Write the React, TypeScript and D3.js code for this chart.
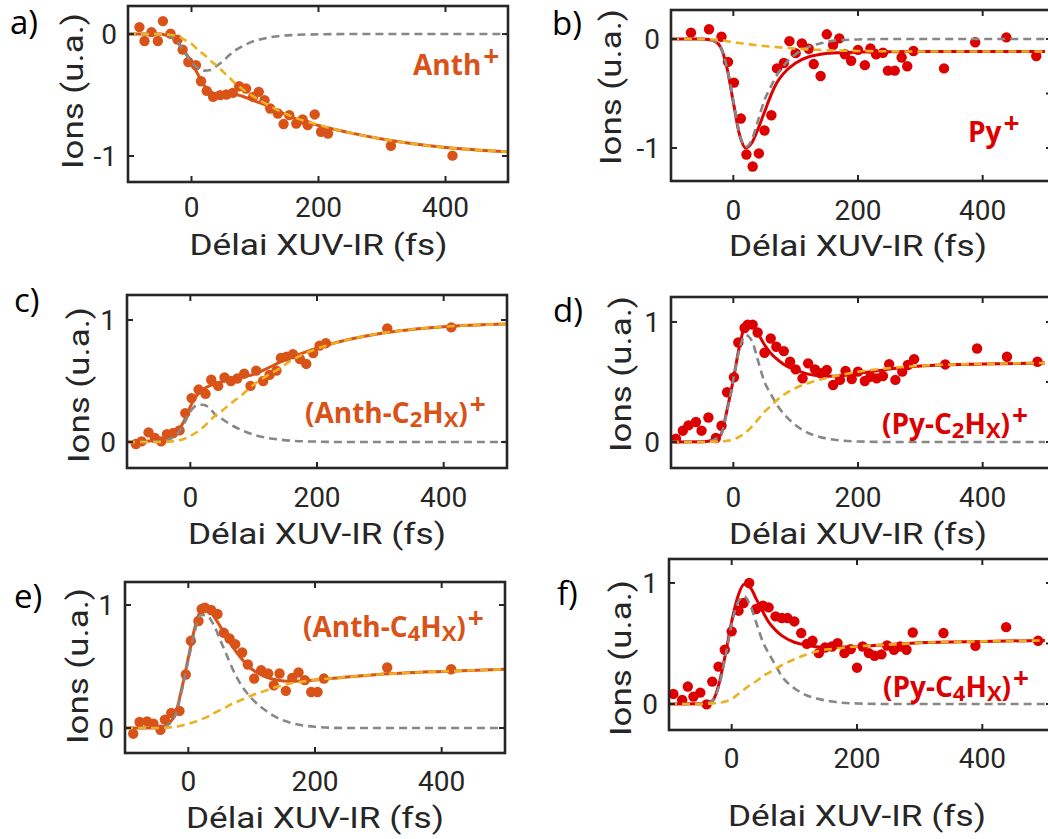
import React from "react";
import * as d3 from "d3";

type Pt = [number, number];

// ---------- shared axis data ----------
const xTickValues = [0, 200, 400];
const xDomain: [number, number] = [-100, 500];
const fitDelays = [-100, -50, -40, -30, -20, -10, 0, 10, 20, 30, 40, 50, 60, 70, 80, 100, 120, 140, 160, 200, 250, 300, 400, 500];

// ---------- a) Anth+ ----------
const anthPoints: Pt[] = [
  [-82, 0.057], [-74, -0.057], [-63, 0.016], [-53, -0.057], [-45, 0.106], [-33, 0.003], [-22, -0.046],
  [-14, -0.128], [-5, -0.229], [7, -0.256], [15, -0.387], [24, -0.466], [34, -0.515], [45, -0.501],
  [55, -0.496], [65, -0.482], [75, -0.428], [86, -0.447], [97, -0.515], [106, -0.474], [115, -0.542],
  [124, -0.61], [136, -0.651], [145, -0.738], [154, -0.665], [165, -0.733], [175, -0.7], [183, -0.747],
  [194, -0.659], [204, -0.801], [215, -0.815], [314, -0.916], [411, -0.997],
];
const anthFit = [0, 0, -0.01, -0.03, -0.08, -0.15, -0.23, -0.33, -0.42, -0.47, -0.49, -0.49, -0.49, -0.495, -0.51, -0.55, -0.59, -0.64, -0.685, -0.75, -0.81, -0.86, -0.93, -0.965];
const anthFast = [0, 0, -0.005, -0.03, -0.08, -0.16, -0.23, -0.28, -0.3, -0.295, -0.26, -0.22, -0.17, -0.13, -0.1, -0.055, -0.03, -0.015, -0.008, -0.002, 0, 0, 0, 0];
const anthSlow = [0, 0, -0.003, -0.01, -0.02, -0.05, -0.08, -0.13, -0.17, -0.22, -0.26, -0.31, -0.36, -0.41, -0.45, -0.52, -0.58, -0.635, -0.68, -0.745, -0.81, -0.86, -0.93, -0.965];

// ---------- b) Py+ ----------
const pyPoints: Pt[] = [
  [-68, 0.058], [-39, 0.089], [-19, 0.021], [-8.5, -0.21], [1, -0.4], [12, -0.73], [21, -1.06], [31, -1.17],
  [41, -1.05], [50, -0.84], [61, -0.7], [70, -0.27], [81, -0.22], [90, -0.02], [100, -0.13], [110, -0.04],
  [121, -0.09], [129, -0.23], [140, -0.34], [150, 0.043], [160, -0.055], [170, 0.006], [179, -0.14],
  [189, -0.2], [200, -0.1], [211, -0.24], [220, -0.086], [229, -0.14], [240, -0.126], [248, -0.29],
  [259, -0.29], [270, -0.17], [279, -0.25], [289, -0.11], [338, -0.27], [388, -0.03], [438, 0.015], [486, -0.156],
];
const pyFit = [0, 0, -0.005, -0.02, -0.08, -0.27, -0.58, -0.88, -1.0, -0.95, -0.82, -0.67, -0.52, -0.4, -0.32, -0.22, -0.165, -0.14, -0.128, -0.12, -0.117, -0.115, -0.115, -0.115];
const pyFast = [0, 0, -0.005, -0.02, -0.08, -0.27, -0.57, -0.87, -0.99, -0.92, -0.74, -0.56, -0.44, -0.33, -0.25, -0.14, -0.075, -0.04, -0.017, -0.004, 0, 0, 0, 0];
const pySlow = [0, 0, -0.002, -0.005, -0.012, -0.02, -0.03, -0.037, -0.045, -0.052, -0.058, -0.065, -0.07, -0.075, -0.08, -0.088, -0.095, -0.1, -0.105, -0.11, -0.113, -0.115, -0.115, -0.115];

// ---------- c) (Anth-C2Hx)+ ----------
const anthC2Points: Pt[] = [
  [-86, -0.016], [-77, 0.005], [-66, 0.079], [-56, 0.033], [-46, 0.005], [-37, 0.065], [-27, 0.074],
  [-17, 0.095], [-8, 0.237], [2, 0.36], [13, 0.43], [24, 0.395], [33, 0.51], [44, 0.46], [54, 0.53],
  [64, 0.5], [74, 0.52], [85, 0.56], [95, 0.46], [104, 0.585], [115, 0.5], [125, 0.55], [136, 0.585],
  [143, 0.69], [152, 0.7], [162, 0.72], [173, 0.68], [183, 0.64], [194, 0.73], [204, 0.79], [214, 0.81],
  [311, 0.93], [412, 0.94],
];
const anthC2Fit = [0, 0.015, 0.025, 0.045, 0.09, 0.17, 0.29, 0.38, 0.43, 0.46, 0.48, 0.495, 0.505, 0.515, 0.53, 0.555, 0.6, 0.65, 0.695, 0.77, 0.84, 0.89, 0.945, 0.967];
const anthC2Fast = [0, 0.005, 0.01, 0.03, 0.07, 0.15, 0.25, 0.3, 0.305, 0.28, 0.22, 0.19, 0.155, 0.125, 0.1, 0.06, 0.035, 0.02, 0.01, 0.003, 0, 0, 0, 0];
const anthC2Slow = [0, 0, 0.002, 0.005, 0.012, 0.025, 0.05, 0.08, 0.12, 0.17, 0.22, 0.255, 0.3, 0.34, 0.38, 0.47, 0.54, 0.6, 0.67, 0.765, 0.84, 0.89, 0.945, 0.967];

// ---------- d) (Py-C2Hx)+ ----------
const pyC2Points: Pt[] = [
  [-92, 0.028], [-81, 0.094], [-72, 0.138], [-60, 0.166], [-51, 0.094], [-40, 0.204], [-28, 0.033],
  [-19, 0.135], [-10, 0.414], [1, 0.539], [8, 0.829], [18, 0.95], [23, 0.978], [31, 0.978], [39, 0.912],
  [50, 0.743], [60, 0.862], [69, 0.793], [81, 0.757], [91, 0.668], [100, 0.605], [111, 0.53], [120, 0.655],
  [131, 0.605], [140, 0.572], [150, 0.6], [160, 0.475], [171, 0.517], [180, 0.591], [190, 0.525],
  [200, 0.586], [211, 0.508], [220, 0.544], [230, 0.53], [240, 0.55], [250, 0.649], [260, 0.517],
  [271, 0.586], [280, 0.641], [290, 0.69], [340, 0.646], [391, 0.779], [439, 0.71], [488, 0.668],
];
const pyC2Fit = [0, 0.002, 0.005, 0.03, 0.06, 0.27, 0.52, 0.8, 0.97, 0.97, 0.9, 0.81, 0.74, 0.69, 0.65, 0.6, 0.565, 0.55, 0.548, 0.57, 0.607, 0.633, 0.65, 0.658];
const pyC2Fast = [0, 0, 0.005, 0.02, 0.06, 0.26, 0.52, 0.78, 0.89, 0.84, 0.67, 0.5, 0.4, 0.31, 0.24, 0.14, 0.075, 0.04, 0.02, 0.004, 0, 0, 0, 0];
const pyC2Slow = [0, 0, 0.001, 0.003, 0.005, 0.01, 0.02, 0.045, 0.08, 0.13, 0.19, 0.25, 0.3, 0.35, 0.39, 0.45, 0.49, 0.52, 0.545, 0.585, 0.615, 0.635, 0.65, 0.658];

// ---------- e) (Anth-C4Hx)+ ----------
const anthC4Points: Pt[] = [
  [-87, -0.046], [-77, 0.049], [-65, 0.054], [-55, 0.035], [-44, -0.014], [-37, 0.068], [-27, 0.122],
  [-14, 0.139], [-4, 0.435], [4, 0.709], [16, 0.87], [21, 0.967], [26, 0.978], [36, 0.959], [46, 0.927],
  [56, 0.774], [65, 0.728], [74, 0.682], [85, 0.614], [94, 0.516], [104, 0.402], [115, 0.47], [126, 0.443],
  [135, 0.348], [144, 0.443], [154, 0.302], [164, 0.408], [174, 0.451], [184, 0.389], [194, 0.293],
  [204, 0.293], [214, 0.402], [314, 0.492], [415, 0.478],
];
const anthC4Fit = [0, 0.003, 0.01, 0.04, 0.12, 0.33, 0.57, 0.81, 0.96, 0.98, 0.91, 0.83, 0.74, 0.66, 0.59, 0.48, 0.42, 0.39, 0.38, 0.39, 0.415, 0.435, 0.46, 0.478];
const anthC4Fast = [0, 0, 0.005, 0.035, 0.11, 0.31, 0.55, 0.78, 0.92, 0.91, 0.84, 0.72, 0.6, 0.48, 0.38, 0.24, 0.15, 0.085, 0.045, 0.01, 0, 0, 0, 0];
const anthC4Slow = [0, 0, 0.002, 0.005, 0.01, 0.02, 0.035, 0.05, 0.07, 0.09, 0.12, 0.145, 0.17, 0.2, 0.22, 0.265, 0.3, 0.335, 0.36, 0.39, 0.415, 0.435, 0.46, 0.478];

// ---------- f) (Py-C4Hx)+ ----------
const pyC4Points: Pt[] = [
  [-93, 0.083], [-79, 0.033], [-70, 0.144], [-61, 0.061], [-50, 0.094], [-40, -0.003], [-31, 0.185],
  [-21, 0.309], [-11, 0.448], [0, 0.6], [11, 0.771], [19, 0.834], [28, 1.0], [39, 0.785], [50, 0.812],
  [59, 0.798], [70, 0.724], [80, 0.71], [89, 0.71], [100, 0.682], [111, 0.586], [120, 0.497], [129, 0.522],
  [139, 0.42], [149, 0.467], [160, 0.475], [169, 0.503], [180, 0.42], [190, 0.453], [200, 0.3],
  [209, 0.475], [219, 0.42], [228, 0.398], [239, 0.41], [248, 0.483], [259, 0.448], [269, 0.475],
  [279, 0.448], [289, 0.591], [338, 0.586], [389, 0.48], [438, 0.635], [489, 0.522],
];
const pyC4Fit = [0, 0.002, 0.008, 0.03, 0.17, 0.41, 0.68, 0.89, 0.99, 0.96, 0.86, 0.76, 0.67, 0.61, 0.565, 0.51, 0.485, 0.47, 0.467, 0.475, 0.49, 0.505, 0.517, 0.525];
const pyC4Fast = [0, 0, 0.005, 0.03, 0.15, 0.39, 0.66, 0.84, 0.89, 0.81, 0.66, 0.51, 0.41, 0.32, 0.23, 0.13, 0.07, 0.04, 0.02, 0.004, 0, 0, 0, 0];
const pyC4Slow = [0, 0, 0.002, 0.005, 0.01, 0.02, 0.04, 0.08, 0.12, 0.16, 0.19, 0.23, 0.26, 0.29, 0.32, 0.37, 0.41, 0.44, 0.455, 0.475, 0.49, 0.505, 0.517, 0.525];

// ---------- labels ----------
type Part = [string, "n" | "sub" | "sup"];
const labelA: Part[] = [["Anth", "n"], ["+", "sup"]];
const labelB: Part[] = [["Py", "n"], ["+", "sup"]];
const labelC: Part[] = [["(Anth-C", "n"], ["2", "sub"], ["H", "n"], ["X", "sub"], [")", "n"], ["+", "sup"]];
const labelD: Part[] = [["(Py-C", "n"], ["2", "sub"], ["H", "n"], ["X", "sub"], [")", "n"], ["+", "sup"]];
const labelE: Part[] = [["(Anth-C", "n"], ["4", "sub"], ["H", "n"], ["X", "sub"], [")", "n"], ["+", "sup"]];
const labelF: Part[] = [["(Py-C", "n"], ["4", "sub"], ["H", "n"], ["X", "sub"], [")", "n"], ["+", "sup"]];

const xLabel = "Délai XUV-IR (fs)";
const yLabel = "Ions (u.a.)";

const ORANGE = "#D95319";
const RED = "#DD0000";
const YELLOW = "#EDB120";
const GRAY = "#878787";
const AX = "#262626";
const FONT = "'Open Sans', 'Segoe UI', sans-serif";
const AXFONT = "Roboto, 'Open Sans', sans-serif";

interface PanelCfg {
  letter: string; letterX: number; letterY: number;
  left: number; right: number; top: number; bottom: number; borderRight: number;
  yDomain: [number, number]; yTicks: number[]; rightTicks: number[];
  color: string;
  points: Pt[]; fit: number[]; fast: number[]; slow: number[];
  label: Part[]; labelX: number; labelY: number;
  xTickY: number; xLabelY: number; yLabelX: number; yLabelY: number;
}

const panels: PanelCfg[] = [
  { letter: "a)", letterX: 10, letterY: 34, left: 128, right: 509, top: 6, bottom: 182, borderRight: 508,
    yDomain: [-1.213, 0.23], yTicks: [-1, 0], rightTicks: [-1, 0], color: ORANGE,
    points: anthPoints, fit: anthFit, fast: anthFast, slow: anthSlow,
    label: labelA, labelX: 413, labelY: 75, xTickY: 217, xLabelY: 255, yLabelX: 83, yLabelY: 91 },
  { letter: "b)", letterX: 552, letterY: 35, left: 671, right: 1045, top: 10, bottom: 181, borderRight: 1052,
    yDomain: [-1.303, 0.266], yTicks: [-1, 0], rightTicks: [-1, -0.5, 0], color: RED,
    points: pyPoints, fit: pyFit, fast: pyFast, slow: pySlow,
    label: labelB, labelX: 968, labelY: 142, xTickY: 220, xLabelY: 256, yLabelX: 621, yLabelY: 87 },
  { letter: "c)", letterX: 14, letterY: 312, left: 127, right: 507, top: 295, bottom: 468, borderRight: 507,
    yDomain: [-0.213, 1.205], yTicks: [0, 1], rightTicks: [0, 1], color: ORANGE,
    points: anthC2Points, fit: anthC2Fit, fast: anthC2Fast, slow: anthC2Slow,
    label: labelC, labelX: 305, labelY: 423, xTickY: 507, xLabelY: 544, yLabelX: 89, yLabelY: 385 },
  { letter: "d)", letterX: 553, letterY: 322, left: 671, right: 1045, top: 297, bottom: 468, borderRight: 1052,
    yDomain: [-0.217, 1.208], yTicks: [0, 1], rightTicks: [0, 0.5, 1], color: RED,
    points: pyC2Points, fit: pyC2Fit, fast: pyC2Fast, slow: pyC2Slow,
    label: labelD, labelX: 882, labelY: 434, xTickY: 507, xLabelY: 544, yLabelX: 631, yLabelY: 374 },
  { letter: "e)", letterX: 14, letterY: 608, left: 125, right: 505, top: 582, bottom: 753, borderRight: 505,
    yDomain: [-0.203, 1.187], yTicks: [0, 1], rightTicks: [0, 1], color: ORANGE,
    points: anthC4Points, fit: anthC4Fit, fast: anthC4Fast, slow: anthC4Slow,
    label: labelE, labelX: 303, labelY: 637, xTickY: 791, xLabelY: 828, yLabelX: 88, yLabelY: 666 },
  { letter: "f)", letterX: 557, letterY: 605, left: 669, right: 1045, top: 559, bottom: 730, borderRight: 1052,
    yDomain: [-0.215, 1.198], yTicks: [0, 1], rightTicks: [0, 0.5, 1], color: RED,
    points: pyC4Points, fit: pyC4Fit, fast: pyC4Fast, slow: pyC4Slow,
    label: labelF, labelX: 883, labelY: 697, xTickY: 768, xLabelY: 826, yLabelX: 631, yLabelY: 658 },
];

function renderLabel(parts: Part[]) {
  let shift = 0;
  return parts.map(([t, k], i) => {
    const target = k === "sub" ? 3.5 : k === "sup" ? -9 : 0;
    const dy = target - shift;
    shift = target;
    const fs = k === "sub" ? 22 : k === "sup" ? 28 : 28;
    return (
      <tspan key={i} dy={dy} dx={k === "sup" ? 2 : 0} fontSize={fs}>
        {t}
      </tspan>
    );
  });
}

function Panel({ p }: { p: PanelCfg }) {
  const x = d3.scaleLinear().domain(xDomain).range([p.left, p.right]);
  const y = d3.scaleLinear().domain(p.yDomain).range([p.bottom, p.top]);
  const line = d3
    .line<number>()
    .x((_, i) => x(fitDelays[i]))
    .y((v) => y(v))
    .curve(d3.curveMonotoneX);
  const tickLen = 6;
  const clipId = "clip-" + p.letter[0];
  return (
    <g>
      <clipPath id={clipId}>
        <rect x={p.left} y={p.top} width={p.borderRight - p.left} height={p.bottom - p.top} />
      </clipPath>
      <g clipPath={`url(#${clipId})`}>
        {p.points.map(([t, v], i) => (
          <circle key={i} cx={x(t)} cy={y(v)} r={5.2} fill={p.color} />
        ))}
        <path d={line(p.fit) || ""} fill="none" stroke={p.color} strokeWidth={3} />
        <path d={line(p.fast) || ""} fill="none" stroke={GRAY} strokeWidth={2.6} strokeDasharray="8,5" />
        <path d={line(p.slow) || ""} fill="none" stroke={YELLOW} strokeWidth={2.6} strokeDasharray="8,5" />
      </g>
      <rect x={p.left} y={p.top} width={p.borderRight - p.left} height={p.bottom - p.top}
        fill="none" stroke={AX} strokeWidth={2.6} />
      {xTickValues.map((t) => (
        <g key={"xt" + t}>
          <line x1={x(t)} x2={x(t)} y1={p.bottom} y2={p.bottom - tickLen} stroke={AX} strokeWidth={2} />
          <line x1={x(t)} x2={x(t)} y1={p.top} y2={p.top + tickLen} stroke={AX} strokeWidth={2} />
          <text x={x(t)} y={p.xTickY} textAnchor="middle" fontSize={28} fill={AX} fontFamily={AXFONT}>
            {t}
          </text>
        </g>
      ))}
      {p.yTicks.map((v) => (
        <g key={"yt" + v}>
          <line x1={p.left} x2={p.left + tickLen} y1={y(v)} y2={y(v)} stroke={AX} strokeWidth={2} />
          <text x={p.left - 11} y={y(v) + 10} textAnchor="end" fontSize={28} fill={AX} fontFamily={AXFONT}>
            {v < 0 ? "-" + Math.abs(v) : String(v)}
          </text>
        </g>
      ))}
      {p.rightTicks.map((v) => (
        <line key={"rt" + v} x1={p.borderRight} x2={p.borderRight - tickLen} y1={y(v)} y2={y(v)} stroke={AX} strokeWidth={2} />
      ))}
      <text x={(p.left + p.right) / 2} y={p.xLabelY} textAnchor="middle" fontSize={30} fill={AX}
        fontFamily={AXFONT} textLength={258} lengthAdjust="spacingAndGlyphs">
        {xLabel}
      </text>
      <text transform={`translate(${p.yLabelX},${p.yLabelY}) rotate(-90)`} textAnchor="middle" fontSize={29}
        fill={AX} fontFamily={AXFONT} textLength={156} lengthAdjust="spacingAndGlyphs">
        {yLabel}
      </text>
      <text x={p.letterX} y={p.letterY} fontSize={33} fill="#000" fontFamily={FONT}>
        {p.letter}
      </text>
      <text x={p.labelX} y={p.labelY} fontSize={28} fontWeight="bold" fill={p.color} fontFamily={FONT}>
        {renderLabel(p.label)}
      </text>
    </g>
  );
}

export default function App() {
  return (
    <svg width={1048} height={839} viewBox="0 0 1048 839"
      style={{ position: "absolute", left: 0, top: 0, display: "block", background: "#fff" }}>
      <rect width={1048} height={839} fill="#fff" />
      {panels.map((p) => (
        <Panel key={p.letter} p={p} />
      ))}
    </svg>
  );
}
